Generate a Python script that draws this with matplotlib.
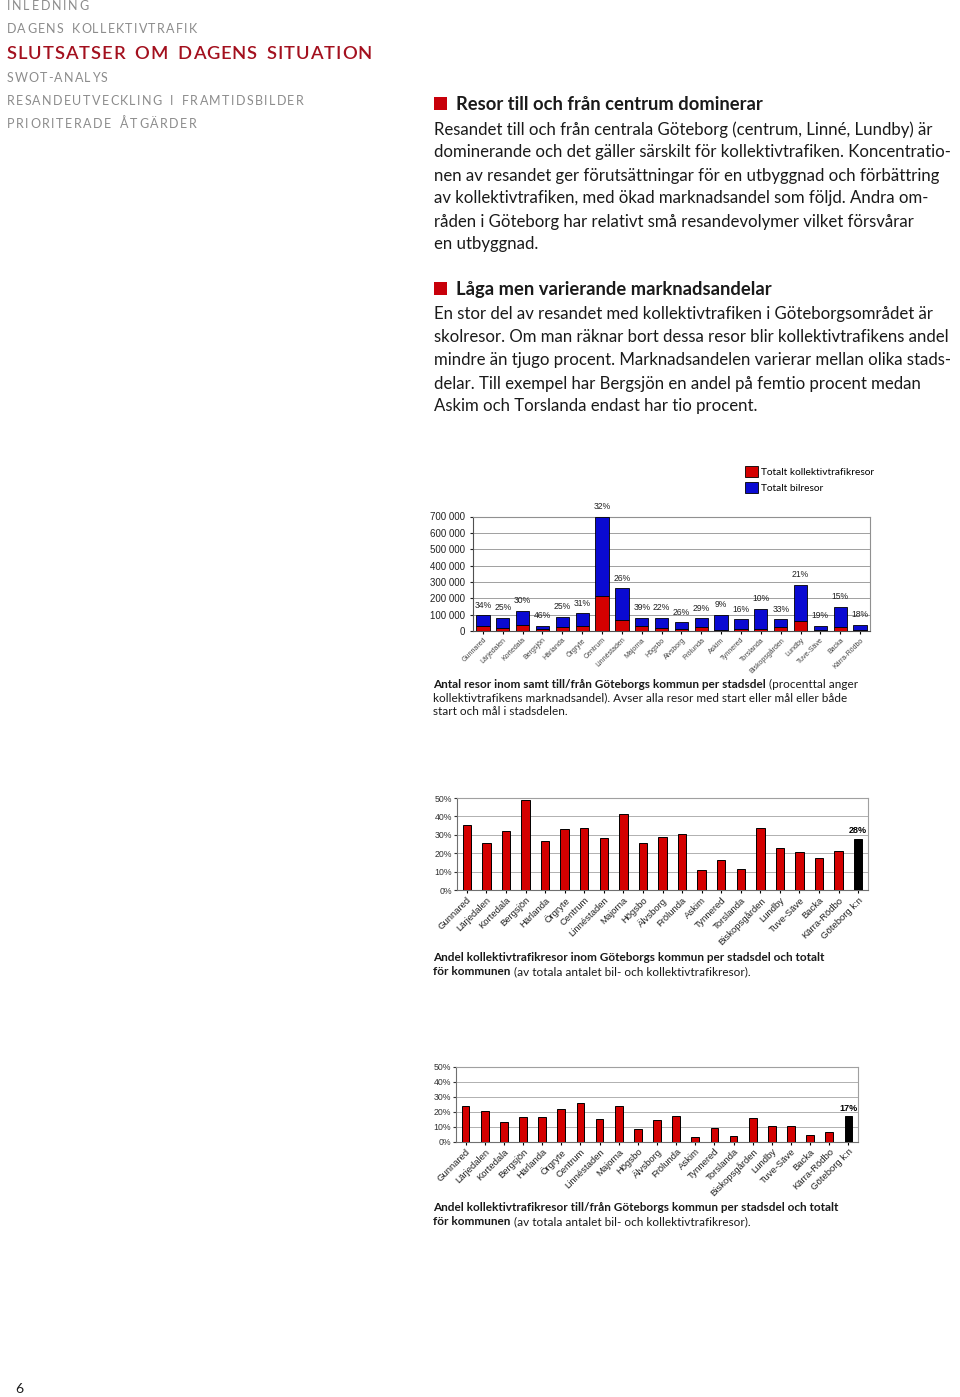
import matplotlib.pyplot as plt
from matplotlib.patches import Rectangle
from matplotlib.ticker import FuncFormatter, MultipleLocator, PercentFormatter
from matplotlib.font_manager import FontProperties, findfont
from matplotlib.ft2font import FT2Font

W, H = 960, 1397

# Data
stadsdelar = ["Gunnared", "Lärjedalen", "Kortedala", "Bergsjön", "Härlanda", "Örgryte",
              "Centrum", "Linnéstaden", "Majorna", "Högsbo", "Älvsborg", "Frölunda",
              "Askim", "Tynnered", "Torslanda", "Biskopsgården", "Lundby", "Tuve-Säve",
              "Backa", "Kärra-Rödbo"]
stadsdelar_kn = stadsdelar + ["Göteborg k:n"]

# Chart 1: total trips per district and the public transport part of it
totalt_resor = [95000, 80000, 125000, 33000, 88000, 108000, 700000, 261000, 82000, 82000,
                53000, 78000, 98000, 73000, 137000, 73000, 282000, 31000, 149000, 37000]
kollektiv_resor = [32000, 20000, 37000, 15000, 22000, 33000, 216000, 68000, 32000, 18000,
                   14000, 23000, 9000, 12000, 14000, 24000, 59000, 6000, 22000, 7000]
andel_etiketter = ["34%", "25%", "30%", "46%", "25%", "31%", "32%", "26%", "39%", "22%",
                   "26%", "29%", "9%", "16%", "10%", "33%", "21%", "19%", "15%", "18%"]

# Chart 2: share of public transport, trips inside the municipality (%)
andel_inom = [35.1, 25.6, 32.2, 48.9, 26.4, 33.1, 33.5, 28.0, 41.5, 25.3, 28.7, 30.5,
              10.9, 16.4, 11.3, 33.8, 22.9, 20.7, 17.3, 21.1, 27.8]
# Chart 3: share of public transport, trips to/from the municipality (%)
andel_till = [23.5, 20.4, 13.2, 16.4, 16.4, 22.0, 26.0, 14.8, 23.8, 8.1, 14.1, 17.3,
              2.9, 9.0, 3.4, 16.1, 10.1, 10.1, 4.3, 6.3, 17.3]

nav_items = ["INLEDNING", "DAGENS KOLLEKTIVTRAFIK", "SLUTSATSER OM DAGENS SITUATION",
             "SWOT-ANALYS", "RESANDEUTVECKLING I FRAMTIDSBILDER", "PRIORITERADE ÅTGÄRDER"]

rubrik1 = "Resor till och från centrum dominerar"
stycke1 = ["Resandet till och från centrala Göteborg (centrum, Linné, Lundby) är",
           "dominerande och det gäller särskilt för kollektivtrafiken. Koncentratio-",
           "nen av resandet ger förutsättningar för en utbyggnad och förbättring",
           "av kollektivtrafiken, med ökad marknadsandel som följd. Andra om-",
           "råden i Göteborg har relativt små resandevolymer vilket försvårar",
           "en utbyggnad."]
rubrik2 = "Låga men varierande marknadsandelar"
stycke2 = ["En stor del av resandet med kollektivtrafiken i Göteborgsområdet är",
           "skolresor. Om man räknar bort dessa resor blir kollektivtrafikens andel",
           "mindre än tjugo procent. Marknadsandelen varierar mellan olika stads-",
           "delar. Till exempel har Bergsjön en andel på femtio procent medan",
           "Askim och Torslanda endast har tio procent."]

RED = "#d40000"
BLUE = "#0a0ad2"
NAV_GREY = "#8c8c8c"
NAV_RED = "#a3101e"
TXT = "#1a1a1a"
BODY_FONT = ["Lato", "DejaVu Sans"]
CHART_FONT = ["Liberation Sans", "DejaVu Sans"]
CAP_SIZE = 8.5

fig = plt.figure(figsize=(W / 100, H / 100), dpi=100)
renderer = fig.canvas.get_renderer()


def fx(x):
    return x / W


def fy(y):
    return 1 - y / H


def px_axes(left, top, right, bottom):
    return fig.add_axes([fx(left), fy(bottom), (right - left) / W, (bottom - top) / H])


def spaced_text(x, y, s, width, size, weight="normal", **kw):
    # letter-spaced caps, stretched to the given pixel width (uses glyph advances)
    font = FT2Font(findfont(FontProperties(family="Lato", weight=weight)))
    font.set_size(size, fig.dpi)
    adv = []
    for ch in s:
        a = font.load_char(ord(ch)).linearHoriAdvance / 65536
        adv.append(a * 1.8 if ch == " " else a)
    gap = (width - sum(adv)) / (len(s) - 1)
    for ch, a in zip(s, adv):
        fig.text(fx(x), fy(y), ch, ha="left", va="baseline", fontsize=size,
                 fontweight=weight, family=BODY_FONT, **kw)
        x += a + gap


def text_runs(x, y, parts, **kw):
    for s, weight in parts:
        t = fig.text(fx(x), fy(y), s, ha="left", va="baseline", fontweight=weight, **kw)
        x += t.get_window_extent(renderer).width


# ---- left navigation
nav_base = [10, 33.3, 59.3, 81.7, 105, 127.7]
nav_width = [82, 190, 365, 101, 297, 190]
for i, item in enumerate(nav_items):
    if i == 2:
        spaced_text(6.7, nav_base[i], item, nav_width[i], 13.2, "semibold", color=NAV_RED)
    else:
        spaced_text(6.7, nav_base[i], item, nav_width[i], 9.0, color=NAV_GREY)

# ---- body text
def section(head_base, heading, lines):
    fig.add_artist(Rectangle((fx(434.3), fy(head_base)), 12.5 / W, 12 / H,
                             transform=fig.transFigure, color="#c8000a", lw=0))
    fig.text(fx(455.7), fy(head_base), heading, ha="left", va="baseline",
             fontsize=13.2, fontweight="bold", color=TXT, family=BODY_FONT)
    for k, line in enumerate(lines):
        fig.text(fx(433.5), fy(head_base + 25 + 23 * k), line, ha="left", va="baseline",
                 fontsize=12.1, color=TXT, family=BODY_FONT)


section(109.5, rubrik1, stycke1)
section(294.5, rubrik2, stycke2)

# ---- chart 1: stacked bars
ax1 = px_axes(473, 516.5, 870, 631)
x1 = range(len(stadsdelar))
bil_resor = [t - k for t, k in zip(totalt_resor, kollektiv_resor)]
b_red = ax1.bar(x1, kollektiv_resor, width=0.67, color=RED, edgecolor="black", lw=0.6,
                label="Totalt kollektivtrafikresor", zorder=3)
b_blue = ax1.bar(x1, bil_resor, bottom=kollektiv_resor, width=0.67, color=BLUE,
                 edgecolor="black", lw=0.6, label="Totalt bilresor", zorder=3)
ax1.bar_label(b_blue, labels=andel_etiketter, padding=4, fontsize=6.2, color="#222222",
              family=CHART_FONT)
ax1.set_xlim(-0.5, len(stadsdelar) - 0.5)
ax1.set_ylim(0, 700000)
ax1.yaxis.set_major_locator(MultipleLocator(100000))
ax1.yaxis.set_major_formatter(FuncFormatter(lambda v, p: f"{int(v):,}".replace(",", " ")))
ax1.set_xticks(list(x1))
ax1.set_xticklabels(stadsdelar, rotation=45, ha="right", rotation_mode="anchor",
                    fontsize=5, color="#444444", family=CHART_FONT)
for lab in ax1.get_yticklabels():
    lab.set_family(CHART_FONT)
ax1.tick_params(axis="y", labelsize=7, length=2, colors="#222222", pad=3.5)
ax1.tick_params(axis="x", length=2, pad=2)
ax1.grid(axis="y", color="#a0a0a0", lw=0.7, zorder=0)
for side, sp in ax1.spines.items():
    sp.set_color("#505050" if side in ("left", "bottom") else "#909090")
    sp.set_linewidth(0.8)

fig.legend(handles=[b_red, b_blue], loc="upper left",
           bbox_to_anchor=(fx(745), fy(465.7)), frameon=False,
           handlelength=1.3, handleheight=1.3, handletextpad=0.3, labelspacing=0.5,
           borderpad=0, borderaxespad=0, prop={"family": BODY_FONT, "size": 7.3})

text_runs(433.3, 687.5, [("Antal resor inom samt till/från Göteborgs kommun per stadsdel", "bold"),
                         (" (procenttal anger", "normal")],
          fontsize=CAP_SIZE, color=TXT, family=BODY_FONT)
fig.text(fx(433.3), fy(701.5), "kollektivtrafikens marknadsandel). Avser alla resor med start eller mål eller både",
         ha="left", va="baseline", fontsize=CAP_SIZE, color=TXT, family=BODY_FONT)
fig.text(fx(433.3), fy(715.5), "start och mål i stadsdelen.",
         ha="left", va="baseline", fontsize=CAP_SIZE, color=TXT, family=BODY_FONT)


# ---- charts 2 and 3: shares
def share_chart(box, values, width, total_label, caption_base, caption_bold):
    ax = px_axes(*box)
    xs = range(len(values))
    colors = [RED] * (len(values) - 1) + ["black"]
    ax.bar(xs, [v / 100 for v in values], width=width, color=colors, edgecolor="black",
           lw=0.7, zorder=3)
    ax.text(len(values) - 1, values[-1] / 100 + 0.02, total_label, ha="center", va="bottom",
            fontsize=6.5, fontweight="bold", color="black", family=CHART_FONT)
    ax.set_xlim(-0.5, len(values) - 0.5)
    ax.set_ylim(0, 0.5)
    ax.yaxis.set_major_locator(MultipleLocator(0.1))
    ax.yaxis.set_major_formatter(PercentFormatter(1.0, decimals=0))
    ax.set_xticks(list(xs))
    ax.set_xticklabels(stadsdelar_kn, rotation=45, ha="right", rotation_mode="anchor",
                       fontsize=6.8, color="#222222", family=CHART_FONT)
    for lab in ax.get_yticklabels():
        lab.set_family(CHART_FONT)
    ax.tick_params(axis="y", labelsize=6.3, length=2, colors="#333333", pad=1.5)
    ax.tick_params(axis="x", length=2, pad=2)
    ax.grid(axis="y", color="#b0b0b0", lw=0.7, zorder=0)
    for side, sp in ax.spines.items():
        sp.set_color("#707070" if side in ("left", "bottom") else "#a0a0a0")
        sp.set_linewidth(0.8)
    text_runs(433.3, caption_base, [(caption_bold, "bold")],
              fontsize=CAP_SIZE, color=TXT, family=BODY_FONT)
    text_runs(433.3, caption_base + 14,
              [("för kommunen", "bold"), (" (av totala antalet bil- och kollektivtrafikresor).", "normal")],
              fontsize=CAP_SIZE, color=TXT, family=BODY_FONT)
    return ax


share_chart((457, 798, 868, 890), andel_inom, 0.43, "28%", 961,
            "Andel kollektivtrafikresor inom Göteborgs kommun per stadsdel och totalt")
share_chart((456, 1067, 858, 1141.5), andel_till, 0.40, "17%", 1211,
            "Andel kollektivtrafikresor till/från Göteborgs kommun per stadsdel och totalt")

fig.text(fx(15), fy(1393), "6", ha="left", va="baseline", fontsize=10, color=TXT,
         family=BODY_FONT)

fig.savefig("out.png", dpi=100)
